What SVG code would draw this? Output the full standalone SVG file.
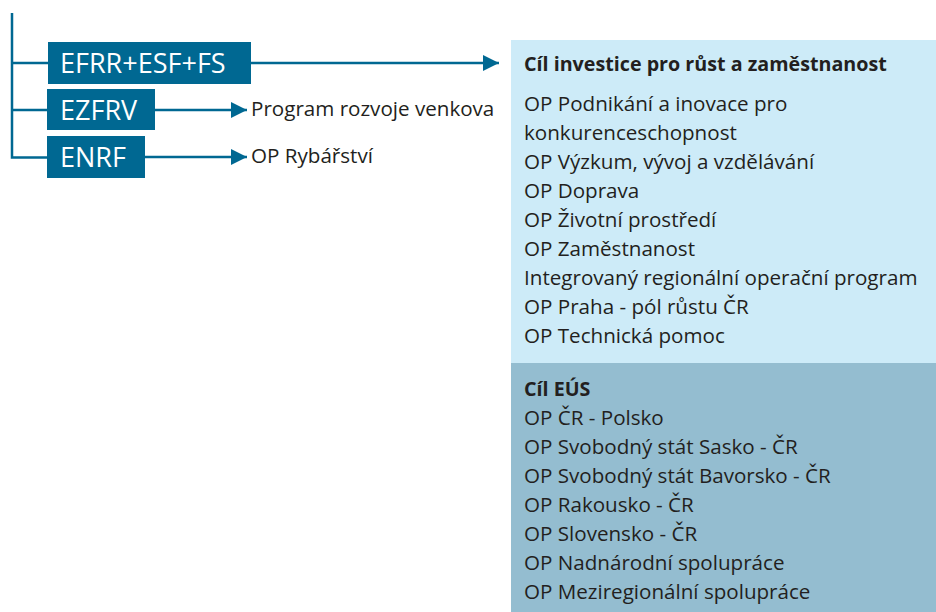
<svg xmlns="http://www.w3.org/2000/svg" width="936" height="612" viewBox="0 0 936 612">
<style>
.box{fill:#006892}
.bt{font-family:"Open Sans","Liberation Sans",sans-serif;font-size:27px;fill:#ffffff}
.t{font-family:"Open Sans","Liberation Sans",sans-serif;font-size:20.6px;fill:#231f20}
.b{font-weight:bold;font-size:19.7px}
.ln{stroke:#006892;stroke-width:2.5;fill:none}
</style>
<defs>
<marker id="ah" markerUnits="userSpaceOnUse" markerWidth="17" markerHeight="17" refX="16" refY="8" orient="auto">
<path d="M0,0 L16,8 L0,16 Z" fill="#006892"/>
</marker>
</defs>
<rect x="0" y="0" width="936" height="612" fill="#ffffff"/>
<g id="panel-investice">
<rect x="511" y="40" width="425" height="323" fill="#cdebf8"/>
<text class="t b" x="524" y="71">Cíl investice pro růst a zaměstnanost</text>
<text class="t" x="524" y="111">OP Podnikání a inovace pro</text>
<text class="t" x="524" y="140">konkurenceschopnost</text>
<text class="t" x="524" y="169">OP Výzkum, vývoj a vzdělávání</text>
<text class="t" x="524" y="198">OP Doprava</text>
<text class="t" x="524" y="227">OP Životní prostředí</text>
<text class="t" x="524" y="256">OP Zaměstnanost</text>
<text class="t" x="524" y="285">Integrovaný regionální operační program</text>
<text class="t" x="524" y="314">OP Praha - pól růstu ČR</text>
<text class="t" x="524" y="343">OP Technická pomoc</text>
</g>
<g id="panel-eus">
<rect x="511" y="363" width="425" height="249" fill="#94bdd0"/>
<text class="t b" x="524" y="396">Cíl EÚS</text>
<text class="t" x="524" y="425">OP ČR - Polsko</text>
<text class="t" x="524" y="454">OP Svobodný stát Sasko - ČR</text>
<text class="t" x="524" y="483">OP Svobodný stát Bavorsko - ČR</text>
<text class="t" x="524" y="512">OP Rakousko - ČR</text>
<text class="t" x="524" y="541">OP Slovensko - ČR</text>
<text class="t" x="524" y="570">OP Nadnárodní spolupráce</text>
<text class="t" x="524" y="599">OP Meziregionální spolupráce</text>
</g>
<g id="connectors">
<path class="ln" d="M12,13 V157.5 H47"/>
<path class="ln" d="M12,63 H48"/>
<path class="ln" d="M12,110 H47"/>
<path class="ln" d="M251,63 H499" marker-end="url(#ah)"/>
<path class="ln" d="M155,110 H247" marker-end="url(#ah)"/>
<path class="ln" d="M145,157 H247" marker-end="url(#ah)"/>
</g>
<g id="node-efrr">
<rect class="box" x="48" y="42" width="203" height="42"/>
<text class="bt" x="60" y="73">EFRR+ESF+FS</text>
</g>
<g id="node-ezfrv">
<rect class="box" x="47" y="89" width="108" height="41"/>
<text class="bt" x="60" y="120">EZFRV</text>
</g>
<g id="node-enrf">
<rect class="box" x="47" y="136" width="98" height="42"/>
<text class="bt" x="60" y="167">ENRF</text>
</g>
<g id="label-prv">
<text class="t" x="251" y="116">Program rozvoje venkova</text>
</g>
<g id="label-ryb">
<text class="t" x="251" y="163">OP Rybářství</text>
</g>
</svg>
